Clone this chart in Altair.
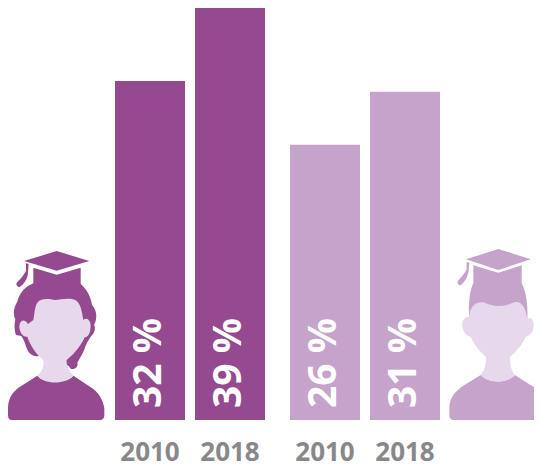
import re
import altair as alt
import pandas as pd

years = ["2010", "2018"]
women_values = [32, 39]
men_values = [26, 31]

DARK = "#954a8f"
LIGHT = "#c5a3cb"
SKIN = "#e7d8ec"
GREY = "#88888b"
FONT = "Open Sans"


def glyph(path, left, top, anchor_x, anchor_y):
    """Turn an outline drawn at 3x into symbol units centred on the icon's anchor."""
    def conv(m):
        x = float(m.group(1)) / 3 + left - anchor_x
        y = float(m.group(2)) / 3 + top - anchor_y
        return f"{x:.2f},{y:.2f}"
    return re.sub(r"(-?[\d.]+),(-?[\d.]+)", conv, path)


W_BODY = ("M24,525 L24,500 C26,470 42,452 60,440 L112,407 C130,425 195,435 220,407 L270,440 "
          "C295,455 310,480 313,505 L313,525 C313,535 308,540 300,540 L35,540 C28,540 24,535 24,525 Z")
W_HAIR = ("M100,130 C75,140 58,160 52,185 C42,200 38,220 46,238 C42,255 44,275 48,285 L64,288 "
          "C72,300 76,312 80,325 C86,340 98,352 116,348 L130,340 L200,345 "
          "C190,360 194,372 206,378 L212,386 C224,390 236,380 232,368 "
          "C240,352 250,340 256,320 C262,305 268,296 272,290 C284,280 288,262 282,255 "
          "C292,238 292,212 276,195 C272,170 262,150 240,130 Z")
W_FACE = ("M165,180 C150,178 125,172 112,188 C104,200 104,220 100,240 L84,252 C70,232 58,245 58,262 "
          "C60,280 70,292 82,290 C90,315 110,345 130,360 C132,375 130,392 112,407 "
          "C130,432 195,436 220,407 C208,395 198,378 200,360 C225,340 244,315 254,292 "
          "C268,292 274,270 271,250 C268,236 258,232 250,240 C246,215 242,190 226,180 C210,172 180,178 165,180 Z")
W_CAP = ("M72,63 L170,33 L268,63 L170,92 Z M100,83 L170,104 L242,83 L242,136 L100,136 Z "
         "M78,70 L86,72 L84,98 C82,118 72,132 58,142 C50,140 46,132 52,126 "
         "C62,116 72,104 78,92 Z")

M_BODY = ("M28,525 L28,500 C30,472 45,455 65,440 L122,405 C140,426 195,435 225,405 L275,437 "
          "L282,441 L282,540 L42,540 C33,540 28,535 28,525 Z")
M_HAIR = "M100,130 C90,150 84,185 88,235 L262,240 C264,190 258,155 245,130 Z"
M_FACE = ("M88,225 C92,195 112,182 135,188 C160,200 190,202 215,190 C240,178 256,195 262,238 "
          "C272,228 282,240 281,258 C280,276 270,288 258,290 C245,315 228,338 210,350 "
          "C210,370 212,390 225,405 C195,436 140,426 122,405 C134,392 138,372 138,350 "
          "C118,335 102,312 92,290 C78,288 68,276 66,256 C66,238 78,226 88,232 Z")
M_CAP = ("M78,58 L175,27 L272,58 L175,90 Z M100,76 L175,98 L245,76 L245,135 L100,135 Z "
         "M80,66 L88,68 L86,92 C84,110 74,125 62,136 C54,135 50,128 54,122 C64,112 74,100 80,88 Z")

W_ANCHOR = dict(left=0, top=240, anchor_x=49, anchor_y=420)
M_ANCHOR = dict(left=440, top=240, anchor_x=499.5, anchor_y=420)

Y_SCALE = alt.Scale(domain=[0, 38.9], nice=False, zero=True, clamp=True)


def bars(values, color):
    df = pd.DataFrame({"year": years, "value": values})
    x = alt.X(
        "year:N",
        sort=years,
        title=None,
        scale=alt.Scale(paddingInner=0.125, paddingOuter=0),
        axis=alt.Axis(
            labelAngle=0, labelFontSize=26, labelFont=FONT, labelFontWeight="bold",
            labelColor=GREY, domain=False, ticks=False, labelPadding=19,
        ),
    )
    y = alt.Y("value:Q", scale=Y_SCALE, axis=None)
    bar = alt.Chart(df).mark_bar(color=color, opacity=1).encode(x=x, y=y)
    label = (
        alt.Chart(df)
        .transform_calculate(txt="datum.value + ' %'")
        .mark_text(angle=270, align="left", baseline="middle", dx=12, dy=-1, font=FONT,
                   fontSize=39, fontWeight="bold", color="white")
        .encode(x=x, y=alt.datum(0, scale=Y_SCALE), text="txt:N")
    )
    return alt.layer(bar, label).properties(width=150, height=412)


def icon(parts, width):
    df = pd.DataFrame({"who": ["person"], "base": [0]})
    layers = []
    for path, color in parts:
        layers.append(
            alt.Chart(df)
            .mark_point(shape=path, size=4, filled=True, fill=color, stroke=None, opacity=1)
            .encode(
                x=alt.X("who:N", axis=None, scale=alt.Scale(type="band")),
                y=alt.Y("base:Q", scale=Y_SCALE, axis=None),
            )
        )
    return alt.layer(*layers).properties(width=width, height=412)


woman = icon(
    [(glyph(W_BODY, **W_ANCHOR), DARK), (glyph(W_HAIR, **W_ANCHOR), DARK),
     (glyph(W_FACE, **W_ANCHOR), SKIN), (glyph(W_CAP, **W_ANCHOR), DARK)],
    82,
)
man = icon(
    [(glyph(M_BODY, **M_ANCHOR), LIGHT), (glyph(M_HAIR, **M_ANCHOR), LIGHT),
     (glyph(M_FACE, **M_ANCHOR), SKIN), (glyph(M_CAP, **M_ANCHOR), LIGHT)],
    69,
)

chart = (
    alt.hconcat(woman, bars(women_values, DARK), bars(men_values, LIGHT), man, spacing=25, bounds="flush")
    .resolve_scale(y="independent", x="independent")
    .properties(padding={"left": 0, "top": 0, "right": 0, "bottom": 3}, background="white")
    .configure_view(stroke=None)
)

chart.save("out.html", embed_options={"renderer": "svg", "actions": False})
